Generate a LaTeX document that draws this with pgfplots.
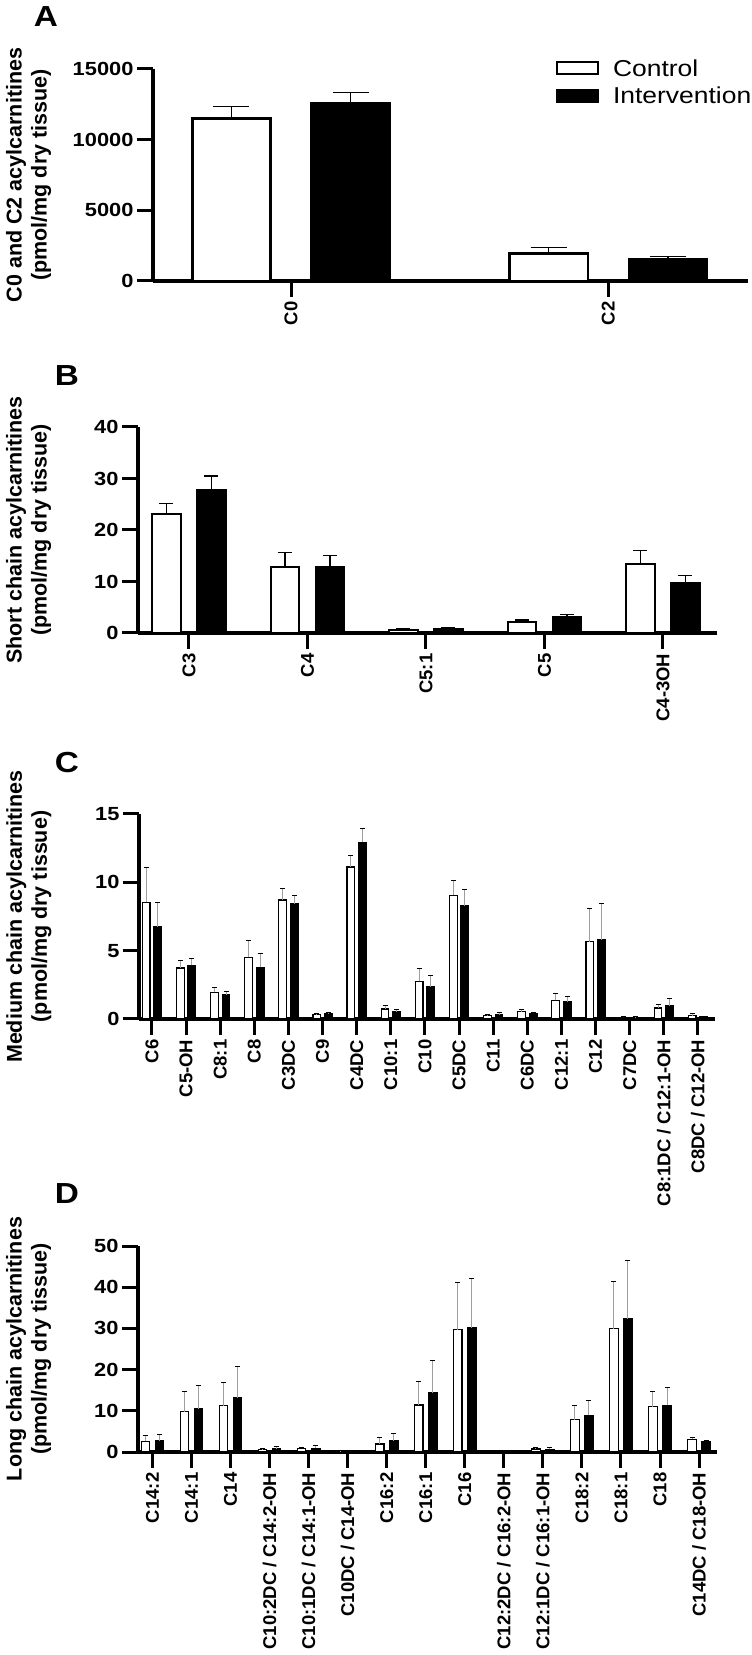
\documentclass[border=0pt]{standalone}
\usepackage{pgfplots}
\pgfplotsset{compat=1.18}
\usepackage{fontspec}
\setmainfont{Liberation Sans}
\newfontfamily\tickfont[FakeStretch=1.15]{Liberation Sans}

\pgfplotsset{
  panel/.style={
    scale only axis, anchor=south west, clip=false,
    axis lines*=left, ymin=0, enlargelimits=false,
    axis line style={line width=4pt},
    tick align=outside, major tick length=16pt,
    tick style={line width=3pt, black},
    ybar,
    /pgf/number format/assume math mode=true,
    /pgf/number format/1000 sep={},
    scaled y ticks=false,
    yticklabel style={font=\tickfont\bfseries\fontsize{19}{23}\selectfont},
    xticklabel style={rotate=90, anchor=east, inner xsep=4.5pt,
      font=\bfseries\fontsize{18.5}{22}\selectfont},
    ylabel style={align=center, anchor=center,
      font=\bfseries\fontsize{21.5}{25}\selectfont},
  },
  ctrl/.style={fill=white, draw=black},
  intv/.style={fill=black, draw=black},
}

\begin{document}
\begin{tikzpicture}
\path[use as bounding box] (0pt,0pt) rectangle (752pt,1655pt);

% panel letters
\node[font=\tickfont\bfseries\fontsize{29}{32}\selectfont] at (46pt,1638pt) {A};
\node[font=\tickfont\bfseries\fontsize{29}{32}\selectfont] at (67pt,1279pt) {B};
\node[font=\tickfont\bfseries\fontsize{29}{32}\selectfont] at (67pt,892pt) {C};
\node[font=\tickfont\bfseries\fontsize{29}{32}\selectfont] at (67pt,461pt) {D};

% A
\begin{axis}[panel, at={(153pt,1374pt)}, width=595pt, height=212pt,
  xmin=-0.435, xmax=1.44, ymax=15000, ytick={0,5000,10000,15000},
  xtick={0,1}, xticklabels={C0,C2},
  ylabel={C0 and C2 acylcarnitines\\(pmol/mg dry tissue)},
  ylabel style={at={(axis description cs:-0.209,0.5)}},
  bar width=0.246,
  legend cell align=left,
  legend style={at={(rel axis cs:0.672,1.065)}, anchor=north west, draw=none, fill=none,
    font=\tickfont\fontsize{23}{27}\selectfont, row sep=5pt, column sep=12pt},
  legend image code/.code={\draw[#1, line width=2pt] (0pt,-6pt) rectangle (41pt,6pt);},
  error bars/y dir=plus, error bars/y explicit,
  error bars/error bar style={line width=1.5pt, black},
  error bars/error mark options={rotate=90, mark size=18pt, line width=1.5pt, black},
]
\addplot[ctrl, line width=2.5pt, bar shift=-0.188] coordinates {
  (0,11510) +- (0,825)
  (1,1957) +- (0,400)
};
\addplot[intv, line width=2.5pt, bar shift=0.188] coordinates {
  (0,12570) +- (0,755)
  (1,1533) +- (0,190)
};
\legend{Control,Intervention}
\end{axis}

% B
\begin{axis}[panel, at={(138pt,1022pt)}, width=579pt, height=206pt,
  xmin=-0.43, xmax=4.456, ymax=40, ytick={0,10,20,30,40},
  xtick={0,...,4}, xticklabels={C3,C4,C5:1,C5,C4-3OH},
  ylabel={Short chain acylcarnitines\\(pmol/mg dry tissue)},
  ylabel style={at={(axis description cs:-0.189,0.5)}},
  bar width=0.24,
  error bars/y dir=plus, error bars/y explicit,
  error bars/error bar style={line width=1.3pt, black},
  error bars/error mark options={rotate=90, mark size=7pt, line width=1.3pt, black},
]
\addplot[ctrl, line width=2pt, bar shift=-0.19] coordinates {
  (0,23.2) +- (0,2.0)
  (1,12.8) +- (0,2.8)
  (2,0.65) +- (0,0.25)
  (3,2.1) +- (0,0.4)
  (4,13.4) +- (0,2.6)
};
\addplot[intv, line width=2pt, bar shift=0.19] coordinates {
  (0,27.7) +- (0,2.8)
  (1,12.9) +- (0,2.1)
  (2,0.8) +- (0,0.2)
  (3,3.05) +- (0,0.55)
  (4,9.7) +- (0,1.5)
};
\end{axis}

% C
\begin{axis}[panel, at={(139pt,636pt)}, width=576pt, height=205pt,
  xmin=-0.38, xmax=16.5, ymax=15, ytick={0,5,10,15},
  xtick={0,...,16},
  xticklabels={C6,C5-OH,C8:1,C8,C3DC,C9,C4DC,C10:1,C10,C5DC,C11,C6DC,C12:1,C12,C7DC,C8:1DC / C12:1-OH,C8DC / C12-OH},
  ylabel={Medium chain acylcarnitines\\(pmol/mg dry tissue)},
  ylabel style={at={(axis description cs:-0.191,0.5)}},
  bar width=0.225,
  error bars/y dir=plus, error bars/y explicit,
  error bars/error bar style={line width=1pt, gray!75},
  error bars/error mark options={rotate=90, mark size=2.5pt, line width=1pt, black},
]
\addplot[ctrl, line width=1.2pt, bar shift=-0.17] coordinates {
  (0,8.54) +- (0,2.56)
  (1,3.73) +- (0,0.56)
  (2,1.95) +- (0,0.32)
  (3,4.51) +- (0,1.27)
  (4,8.71) +- (0,0.85)
  (5,0.32) +- (0,0.07)
  (6,11.12) +- (0,0.86)
  (7,0.73) +- (0,0.27)
  (8,2.76) +- (0,0.92)
  (9,9.05) +- (0,1.05)
  (10,0.24) +- (0,0.08)
  (11,0.54) +- (0,0.17)
  (12,1.37) +- (0,0.53)
  (13,5.66) +- (0,2.44)
  (14,0.12) +- (0,0.08)
  (15,0.80) +- (0,0.27)
  (16,0.24) +- (0,0.17)
};
\addplot[intv, line width=1.2pt, bar shift=0.17] coordinates {
  (0,6.76) +- (0,1.78)
  (1,3.93) +- (0,0.51)
  (2,1.76) +- (0,0.22)
  (3,3.78) +- (0,1.02)
  (4,8.44) +- (0,0.56)
  (5,0.37) +- (0,0.12)
  (6,12.93) +- (0,1.0)
  (7,0.51) +- (0,0.2)
  (8,2.34) +- (0,0.86)
  (9,8.27) +- (0,1.17)
  (10,0.29) +- (0,0.22)
  (11,0.41) +- (0,0.08)
  (12,1.27) +- (0,0.39)
  (13,5.80) +- (0,2.66)
  (14,0.05) +- (0,0.1)
  (15,0.98) +- (0,0.51)
  (16,0.15) +- (0,0.05)
};
\end{axis}

% D
\begin{axis}[panel, at={(138pt,203pt)}, width=579pt, height=206pt,
  xmin=-0.37, xmax=14.46, ymax=50, ytick={0,10,20,30,40,50},
  xtick={0,...,14},
  xticklabels={C14:2,C14:1,C14,C10:2DC / C14:2-OH,C10:1DC / C14:1-OH,C10DC / C14-OH,C16:2,C16:1,C16,C12:2DC / C16:2-OH,C12:1DC / C16:1-OH,C18:2,C18:1,C18,C14DC / C18-OH},
  ylabel={Long chain acylcarnitines\\(pmol/mg dry tissue)},
  ylabel style={at={(axis description cs:-0.189,0.5)}},
  bar width=0.22,
  error bars/y dir=plus, error bars/y explicit,
  error bars/error bar style={line width=1pt, gray!75},
  error bars/error mark options={rotate=90, mark size=2.5pt, line width=1pt, black},
]
\addplot[ctrl, line width=1.2pt, bar shift=-0.18] coordinates {
  (0,2.58) +- (0,1.38)
  (1,9.76) +- (0,4.94)
  (2,11.2) +- (0,5.65)
  (3,0.55) +- (0,0.28)
  (4,0.92) +- (0,0.28)
  (5,0.1) +- (0,0.36)
  (6,1.93) +- (0,1.47)
  (7,11.4) +- (0,5.6)
  (8,29.7) +- (0,11.5)
  (9,0.03) +- (0,0)
  (10,0.74) +- (0,0.36)
  (11,7.8) +- (0,3.4)
  (12,29.9) +- (0,11.5)
  (13,10.96) +- (0,3.74)
  (14,3.04) +- (0,0.36)
};
\addplot[intv, line width=1.2pt, bar shift=0.18] coordinates {
  (0,2.67) +- (0,1.47)
  (1,10.5) +- (0,5.7)
  (2,13.1) +- (0,7.6)
  (3,0.74) +- (0,0.64)
  (4,0.92) +- (0,0.55)
  (5,0.02) +- (0,0)
  (6,2.76) +- (0,1.74)
  (7,14.3) +- (0,8.0)
  (8,30.1) +- (0,12.0)
  (9,0.03) +- (0,0)
  (10,0.64) +- (0,0.56)
  (11,8.9) +- (0,3.7)
  (12,32.4) +- (0,14.1)
  (13,11.3) +- (0,4.35)
  (14,2.58) +- (0,0.27)
};
\end{axis}
\end{tikzpicture}
\end{document}
